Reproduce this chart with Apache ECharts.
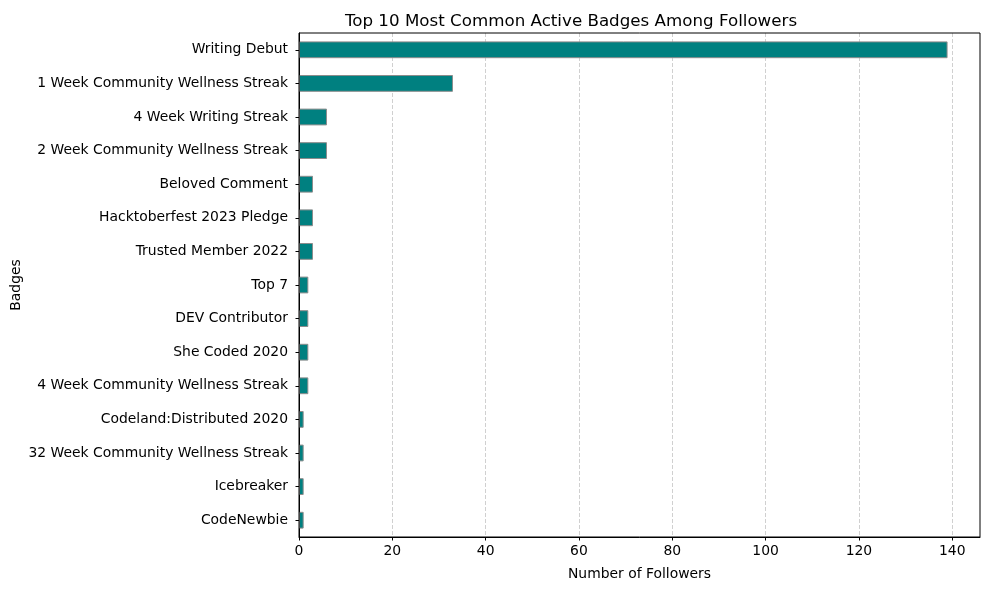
<!DOCTYPE html>
<html>
<head>
<meta charset="utf-8">
<script src="https://cdn.jsdelivr.net/npm/echarts@6/dist/echarts.min.js"></script>
<style>html,body{margin:0;padding:0;background:#fff;}#c{width:990px;height:590px;}</style>
</head>
<body>
<div id="c"></div>
<script>
const categories = ["Writing Debut","1 Week Community Wellness Streak","4 Week Writing Streak","2 Week Community Wellness Streak","Beloved Comment","Hacktoberfest 2023 Pledge","Trusted Member 2022","Top 7","DEV Contributor","She Coded 2020","4 Week Community Wellness Streak","Codeland:Distributed 2020","32 Week Community Wellness Streak","Icebreaker","CodeNewbie"];
const followers = [139,33,6,6,3,3,3,2,2,2,2,1,1,1,1];
const xTicks = [0,20,40,60,80,100,120,140];

const font = 'DejaVu Sans';
const chart = echarts.init(document.getElementById('c'), null, {renderer:'canvas'});
chart.setOption({
  animation:false,
  backgroundColor:'#fff',
  title:{text:'Top 10 Most Common Active Badges Among Followers',left:566,top:8,textAlign:'center',
    textStyle:{fontFamily:font,fontSize:16.7,fontWeight:'normal',color:'#000'}},
  grid:{left:299,right:10,top:33,bottom:53,containLabel:false,outerBoundsMode:'none'},
  xAxis:{type:'value',min:0,max:145.95,interval:20,
    name:'Number of Followers',nameLocation:'middle',nameGap:30,nameMoveOverlap:false,
    nameTextStyle:{fontFamily:font,fontSize:13.9,color:'#000'},
    axisLine:{show:true,lineStyle:{color:'#000',width:1}},
    axisTick:{show:true,length:3.5,lineStyle:{color:'#000'},customValues:xTicks},
    axisLabel:{fontFamily:font,fontSize:13.9,color:'#000',margin:7,customValues:xTicks},
    splitLine:{show:true,lineStyle:{color:'#c4c4c4',type:[4,2],width:0.8}}},
  yAxis:{type:'category',data:categories,inverse:true,
    name:'Badges',nameLocation:'middle',nameGap:276,nameRotate:90,nameMoveOverlap:false,
    nameTextStyle:{fontFamily:font,fontSize:13.9,color:'#000'},
    axisLine:{show:true,lineStyle:{color:'#000',width:1}},
    axisTick:{show:true,alignWithLabel:true,length:3.5,lineStyle:{color:'#000'}},
    axisLabel:{fontFamily:font,fontSize:13.9,color:'#000',margin:11}},
  series:[{type:'bar',data:followers,barWidth:'50%',
    itemStyle:{color:'#008080',borderColor:'#8c8c8c',borderWidth:1}}],
  graphic:[{type:'rect',shape:{x:299,y:33,width:681,height:504},
    style:{fill:'none',stroke:'#000',lineWidth:1},z:100}]
});
</script>
</body>
</html>
